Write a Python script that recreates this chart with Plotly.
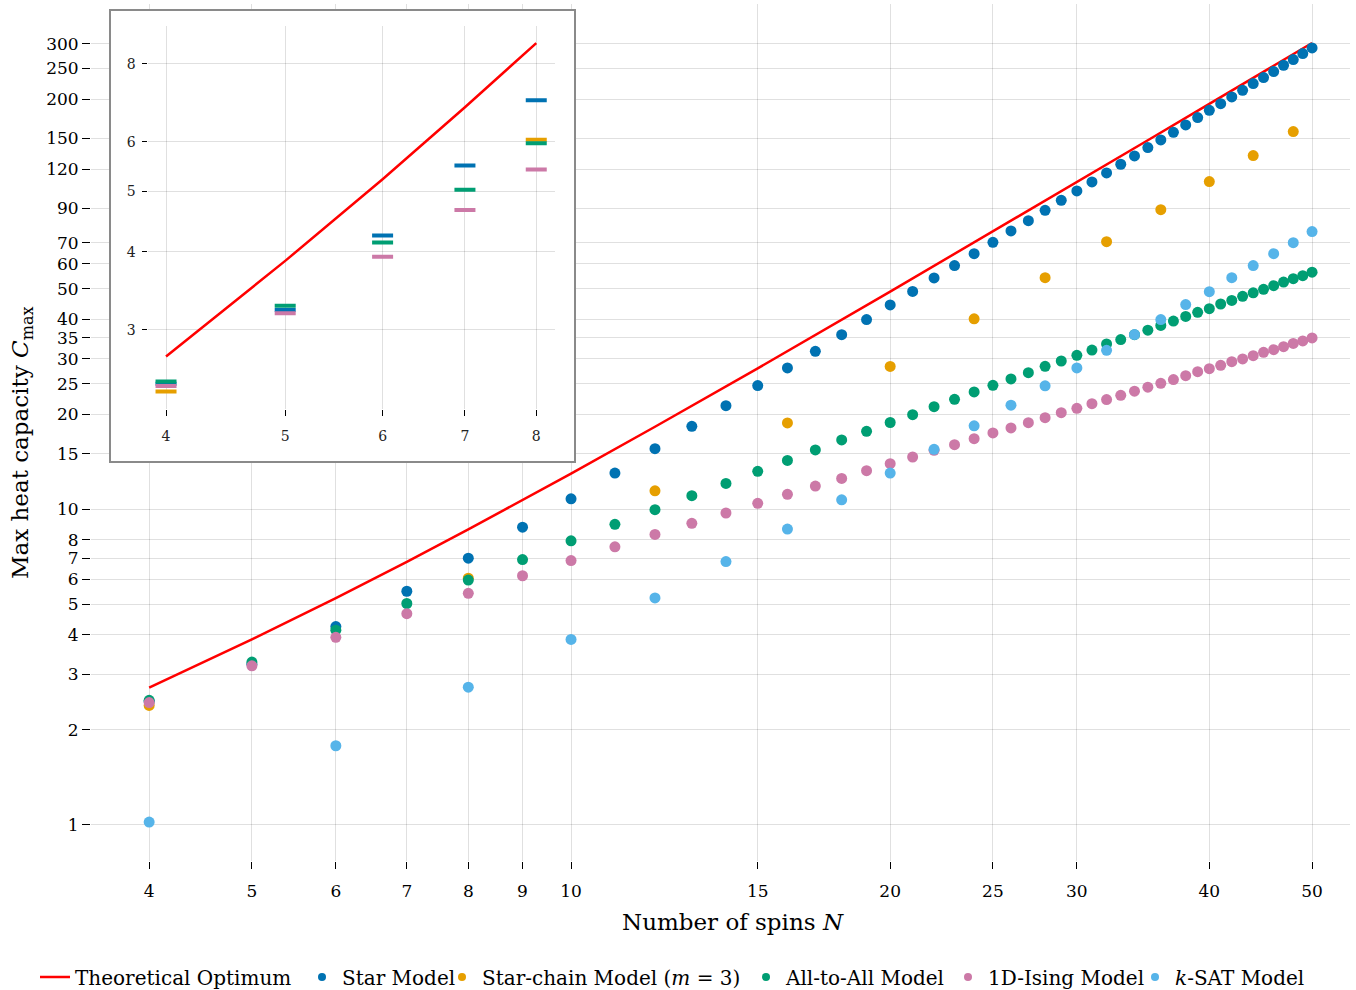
import plotly.graph_objects as go

# ---------------- data ----------------
theory_N = [4, 5, 6, 7, 8, 9, 10, 12, 15, 20, 25, 30, 35, 40, 45, 50]
theory_C = [2.72, 3.87, 5.23, 6.82, 8.64, 10.69, 12.98, 18.28, 28.01, 49.04,
            76.07, 109.1, 148.1, 193.2, 244.2, 301.3]

all_N = list(range(4, 51))
star_C = [2.46, 3.23, 4.25, 5.50, 7.00, 8.78, 10.8, 13.04, 15.58, 18.34, 21.33,
          24.69, 28.08, 31.7, 35.8, 40.0, 44.5, 49.1, 54.2, 59.3, 64.7, 70.3,
          76.4, 82.3, 88.8, 95.5, 102.3, 109.2, 116.7, 124.3, 132.1, 140.4,
          148.5, 156.9, 165.6, 174.7, 184.3, 193.5, 203.2, 213.3, 224.0, 234.0,
          244.5, 256.1, 266.9, 278.8, 290.7]

chain_N = [4, 8, 12, 16, 20, 24, 28, 32, 36, 40, 44, 48]
chain_C = [2.39, 6.05, 11.45, 18.8, 28.4, 40.2, 54.3, 70.6, 89.2, 109.5, 132.4, 157.8]

a2a_C = [2.48, 3.28, 4.14, 5.03, 5.97, 6.93, 7.95, 8.97, 9.98, 11.05, 12.09,
         13.20, 14.30, 15.43, 16.6, 17.68, 18.86, 19.97, 21.17, 22.33, 23.57,
         24.74, 25.92, 27.14, 28.42, 29.55, 30.79, 32.0, 33.45, 34.55, 35.8,
         37.0, 38.3, 39.55, 40.9, 42.17, 43.3, 44.8, 46.0, 47.4, 48.6, 49.85,
         51.2, 52.6, 53.9, 55.1, 56.5]

ising_C = [2.44, 3.19, 3.93, 4.67, 5.42, 6.16, 6.88, 7.61, 8.33, 9.03, 9.74,
           10.45, 11.16, 11.86, 12.54, 13.27, 13.96, 14.66, 15.39, 16.04, 16.76,
           17.47, 18.13, 18.84, 19.54, 20.26, 20.91, 21.64, 22.3, 23.0, 23.7,
           24.4, 25.1, 25.8, 26.55, 27.34, 27.94, 28.63, 29.41, 29.99, 30.72,
           31.47, 32.1, 32.8, 33.6, 34.2, 34.98]

ksat_N = list(range(4, 51, 2))
ksat_C = [1.02, 1.78, 2.73, 3.87, 5.24, 6.83, 8.66, 10.72, 13.04, 15.5, 18.4,
          21.4, 24.66, 28.1, 31.95, 35.85, 40.0, 44.6, 49.0, 54.3, 59.3, 64.7,
          70.1, 76.0]

x_ticks = [4, 5, 6, 7, 8, 9, 10, 15, 20, 25, 30, 40, 50]
y_ticks = [1, 2, 3, 4, 5, 6, 7, 8, 10, 15, 20, 25, 30, 35, 40, 50, 60, 70, 90,
           120, 150, 200, 250, 300]
inset_x_ticks = [4, 5, 6, 7, 8]
inset_y_ticks = [3, 4, 5, 6, 8]

names = ["Theoretical Optimum", "Star Model", "Star-chain Model (<i>m</i> = 3)",
         "All-to-All Model", "1D-Ising Model", "<i>k</i>-SAT Model"]
colors = ["#FF0000", "#0072B2", "#E69F00", "#009E73", "#CC79A7", "#56B4E9"]

# ---------------- layout geometry ----------------
W, H = 1356, 990
ML, MR, MT, MB = 91, 6, 4, 129
PW, PH = W - ML - MR, H - MT - MB


def px2paper_x(px):
    return (px - ML) / PW


def px2paper_y(py):
    return (H - MB - py) / PH


FONT = "DejaVu Serif"
GRID = "rgba(0,0,0,0.12)"

fig = go.Figure()

# main plot
fig.add_trace(go.Scatter(x=theory_N, y=theory_C, mode="lines",
                         line=dict(color=colors[0], width=2.5),
                         xaxis="x", yaxis="y", showlegend=False))
series = [(all_N, star_C), (chain_N, chain_C), (all_N, a2a_C),
          (all_N, ising_C), (ksat_N, ksat_C)]
for (xs, ys), col in zip(series, colors[1:]):
    fig.add_trace(go.Scatter(x=xs, y=ys, mode="markers",
                             marker=dict(color=col, size=11, line=dict(width=0)),
                             xaxis="x", yaxis="y", showlegend=False))

# blank box subplot (white background for the inset)
fig.add_trace(go.Scatter(x=[None], y=[None], xaxis="x2", yaxis="y2",
                         showlegend=False, hoverinfo="skip"))

# inset
tN = [n for n in theory_N if n <= 8]
fig.add_trace(go.Scatter(x=tN, y=theory_C[:len(tN)], mode="lines",
                         line=dict(color=colors[0], width=2.5),
                         xaxis="x3", yaxis="y3", showlegend=False))
inset_series = [(all_N, star_C), (chain_N, chain_C), (all_N, a2a_C), (all_N, ising_C)]
for (xs, ys), col in zip(inset_series, colors[1:5]):
    xi = [x for x in xs if x <= 8]
    yi = ys[:len(xi)]
    fig.add_trace(go.Scatter(x=xi, y=yi, mode="markers",
                             marker=dict(symbol="line-ew", size=15,
                                         line=dict(color=col, width=4)),
                             xaxis="x3", yaxis="y3", showlegend=False))

# legend entries (each in its own legend for exact placement)
legend_left_px = [35, 302, 442, 746, 948, 1135]
for i, (nm, col) in enumerate(zip(names, colors)):
    lg = "legend" if i == 0 else f"legend{i+1}"
    if i == 0:
        tr = go.Scatter(x=[None], y=[None], mode="lines", name=nm,
                        line=dict(color=col, width=2.5))
    else:
        tr = go.Scatter(x=[None], y=[None], mode="markers", name=nm,
                        marker=dict(color=col, size=8))
    tr.update(legend=lg, showlegend=True, xaxis="x", yaxis="y")
    fig.add_trace(tr)

legend_common = dict(orientation="h", yanchor="middle", xanchor="left",
                     y=px2paper_y(977), bgcolor="rgba(0,0,0,0)", borderwidth=0,
                     font=dict(family=FONT, size=20, color="black"),
                     itemclick=False, itemdoubleclick=False)
legends = {}
for i, lp in enumerate(legend_left_px):
    key = "legend" if i == 0 else f"legend{i+1}"
    legends[key] = dict(legend_common, x=px2paper_x(lp))

axis_common = dict(type="log", showgrid=True, gridcolor=GRID, gridwidth=1,
                   zeroline=False, showline=False, ticks="outside",
                   tickcolor="black", tickwidth=1,
                   tickfont=dict(family=FONT, size=17, color="black"))

box_x0, box_x1, box_y0, box_y1 = 110, 575, 10, 462

fig.update_layout(
    width=W, height=H,
    margin=dict(l=ML, r=MR, t=MT, b=MB, autoexpand=False),
    paper_bgcolor="white", plot_bgcolor="white",
    hovermode=False,
    xaxis=dict(axis_common, range=[0.5472, 1.73476], tickvals=x_ticks,
               ticktext=[str(v) for v in x_ticks], ticklen=7, domain=[0, 1],
               ticklabelstandoff=8, anchor="y"),
    yaxis=dict(axis_common, range=[-0.115, 2.6026], tickvals=y_ticks,
               ticktext=[str(v) for v in y_ticks], ticklen=8, domain=[0, 1],
               anchor="x"),
    xaxis2=dict(domain=[px2paper_x(box_x0), px2paper_x(box_x1)], anchor="y2",
                showgrid=False, zeroline=False, showline=False,
                showticklabels=False, ticks="", range=[0, 1]),
    yaxis2=dict(domain=[px2paper_y(box_y1), px2paper_y(box_y0)], anchor="x2",
                showgrid=False, zeroline=False, showline=False,
                showticklabels=False, ticks="", range=[0, 1]),
    xaxis3=dict(axis_common, range=[0.587, 0.918], tickvals=inset_x_ticks,
                ticktext=[str(v) for v in inset_x_ticks], ticklen=6,
                ticklabelstandoff=8,
                tickfont=dict(family=FONT, size=14, color="#222"),
                domain=[px2paper_x(147.5), px2paper_x(554.6)], anchor="y3"),
    yaxis3=dict(axis_common, range=[0.350, 0.9644], tickvals=inset_y_ticks,
                ticktext=[str(v) for v in inset_y_ticks], ticklen=5,
                ticklabelstandoff=3,
                tickfont=dict(family=FONT, size=14, color="#222"),
                domain=[px2paper_y(409.3), px2paper_y(25.7)], anchor="x3"),
    shapes=[dict(type="rect", xref="paper", yref="paper",
                 x0=px2paper_x(box_x0), x1=px2paper_x(box_x1),
                 y0=px2paper_y(box_y1), y1=px2paper_y(box_y0),
                 line=dict(color="#8a8a8a", width=2),
                 fillcolor="rgba(0,0,0,0)", layer="above")],
    annotations=[
        dict(text="Number of spins <i>N</i>", xref="paper", yref="paper",
             x=px2paper_x(733), y=px2paper_y(922), xanchor="center",
             yanchor="middle", showarrow=False,
             font=dict(family=FONT, size=23, color="black")),
        dict(text="Max heat capacity <i>C</i><sub>max</sub>", xref="paper",
             yref="paper", x=px2paper_x(22), y=px2paper_y(443),
             xanchor="center", yanchor="middle", textangle=-90,
             showarrow=False, font=dict(family=FONT, size=23, color="black")),
    ],
    **legends,
)

fig.write_html("out.html",
               config={"displayModeBar": False},
               post_script="document.body.style.margin='0px';"
                           "document.body.style.overflow='hidden';")
